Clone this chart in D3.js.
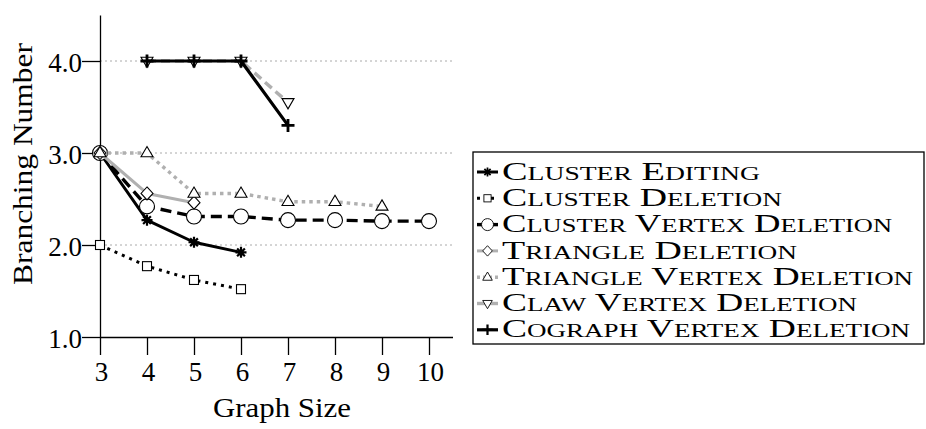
<!DOCTYPE html>
<html><head><meta charset="utf-8">
<script src="https://cdn.jsdelivr.net/npm/d3@7"></script>
<style>
html,body{margin:0;padding:0;background:#fff;}
</style></head>
<body><svg id="c" width="926" height="429" font-family="Liberation Serif"></svg>
<script>
const xTicks = [3,4,5,6,7,8,9,10];
const yTicks = [1,2,3,4];
const gridValues = [2,3,4];
const seriesNames = ["Cluster Editing","Cluster Deletion","Cluster Vertex Deletion","Triangle Deletion","Triangle Vertex Deletion","Claw Vertex Deletion","Cograph Vertex Deletion"];
const clusterEditingX = [3,4,5,6];
const clusterEditingY = [3.0,2.27,2.03,1.92];
const clusterDeletionX = [3,4,5,6];
const clusterDeletionY = [2.0,1.77,1.62,1.52];
const clusterVertexDeletionX = [3,4,5,6,7,8,9,10];
const clusterVertexDeletionY = [3.0,2.42,2.31,2.31,2.27,2.27,2.26,2.26];
const triangleDeletionX = [3,4,5];
const triangleDeletionY = [3.0,2.56,2.46];
const triangleVertexDeletionX = [3,4,5,6,7,8,9];
const triangleVertexDeletionY = [3.0,3.0,2.56,2.56,2.47,2.47,2.42];
const clawVertexDeletionX = [4,5,6,7];
const clawVertexDeletionY = [4.0,4.0,4.0,3.55];
const cographVertexDeletionX = [4,5,6,7];
const cographVertexDeletionY = [4.0,4.0,4.0,3.30];
// measured text widths (layout)
const legendWidths = [258,280,390,295,411,355,408];

const GRAY = "#b0b0b0";
const styles = [
  {color:"#000", width:3, dash:null, marker:"asterisk", ldash:null},
  {color:"#000", width:3, dash:"3,5", marker:"square", ldash:"3,4"},
  {color:"#000", width:3.4, dash:"11,6", marker:"circle", ldash:null},
  {color:GRAY, width:3, dash:null, marker:"diamond", ldash:null},
  {color:GRAY, width:3.4, dash:"3.5,4", marker:"triUp", ldash:"3,3"},
  {color:GRAY, width:3.4, dash:"9,5", marker:"triDown", ldash:null},
  {color:"#000", width:3.2, dash:null, marker:"plus", ldash:null}
];
const xs = [clusterEditingX,clusterDeletionX,clusterVertexDeletionX,triangleDeletionX,triangleVertexDeletionX,clawVertexDeletionX,cographVertexDeletionX];
const ys = [clusterEditingY,clusterDeletionY,clusterVertexDeletionY,triangleDeletionY,triangleVertexDeletionY,clawVertexDeletionY,cographVertexDeletionY];

const FONT = "Liberation Serif";
const svg = d3.select("#c");
const x = d3.scaleLinear().domain([3,10.5]).range([100,452.5]);
const y = d3.scaleLinear().domain([1,4.5]).range([337,15]);

// grid
svg.append("g").selectAll("line").data(gridValues).join("line")
  .attr("x1",x(3)).attr("x2",x(10.5)).attr("y1",d=>y(d)).attr("y2",d=>y(d))
  .attr("stroke","#aaa").attr("stroke-width",1).attr("stroke-dasharray","2,3");

// axes
const xAxis = svg.append("g").attr("transform",`translate(0,${y(1)})`)
  .call(d3.axisBottom(x).tickValues(xTicks).tickSize(18).tickSizeOuter(0).tickPadding(7).tickFormat(d3.format("d")));
const yAxis = svg.append("g").attr("transform",`translate(${x(3)},0)`)
  .call(d3.axisLeft(y).tickValues(yTicks).tickSize(18).tickSizeOuter(0).tickPadding(0).tickFormat(d3.format(".1f")));
[xAxis,yAxis].forEach(g=>{
  g.attr("font-family",FONT).attr("font-size",27);
  g.select(".domain").attr("stroke","#000").attr("stroke-width",1.3);
  g.selectAll(".tick line").attr("stroke","#000").attr("stroke-width",1.3);
  g.selectAll(".tick text").attr("font-family",FONT).attr("font-size",27).attr("fill","#000");
});
yAxis.selectAll(".tick text").attr("dy","0.38em");
xAxis.selectAll(".tick text").attr("dx","1");

svg.append("text").attr("x",282).attr("y",417).attr("text-anchor","middle")
  .attr("font-family",FONT).attr("font-size",27).attr("textLength",138).attr("lengthAdjust","spacingAndGlyphs").text("Graph Size");
svg.append("text").attr("transform",`translate(32,164) rotate(-90)`).attr("text-anchor","middle")
  .attr("font-family",FONT).attr("font-size",27).attr("textLength",242).attr("lengthAdjust","spacingAndGlyphs").text("Branching Number");

function drawMarker(g, type, cx, cy, sc){
  sc = sc || 1;
  const m = g.append("g").attr("transform",`translate(${cx},${cy}) scale(${sc})`);
  if(type==="circle"){
    m.append("circle").attr("r",7.5).attr("fill","#fff").attr("stroke","#000").attr("stroke-width",1.1);
  } else if(type==="square"){
    m.append("rect").attr("x",-4.5).attr("y",-4.5).attr("width",9).attr("height",9).attr("fill","#fff").attr("stroke","#000").attr("stroke-width",1.1);
  } else if(type==="diamond"){
    m.append("path").attr("d","M0,-6.5L6,0L0,6.5L-6,0Z").attr("fill","#fff").attr("stroke","#000").attr("stroke-width",1.1);
  } else if(type==="triUp"){
    m.append("path").attr("d","M0,-6.5L6,3.8L-6,3.8Z").attr("fill","#fff").attr("stroke","#000").attr("stroke-width",1.1);
  } else if(type==="triDown"){
    m.append("path").attr("d","M0,6.5L6,-3.8L-6,-3.8Z").attr("fill","#fff").attr("stroke","#000").attr("stroke-width",1.1);
  } else if(type==="plus"){
    m.append("path").attr("d","M-6.5,0H6.5M0,-6.5V6.5").attr("stroke","#000").attr("stroke-width",2.8);
  } else if(type==="asterisk"){
    let d="";
    for(let k=0;k<4;k++){const a=k*Math.PI/4;d+=`M${-5.5*Math.cos(a)},${-5.5*Math.sin(a)}L${5.5*Math.cos(a)},${5.5*Math.sin(a)}`;}
    m.append("path").attr("d",d).attr("stroke","#000").attr("stroke-width",2.2);
  }
}

const line = d3.line().x(d=>x(d[0])).y(d=>y(d[1]));
const plot = svg.append("g");
seriesNames.forEach((name,i)=>{
  const pts = xs[i].map((v,j)=>[v,ys[i][j]]);
  const s = styles[i];
  plot.append("path").attr("d",line(pts)).attr("fill","none").attr("stroke",s.color)
    .attr("stroke-width",s.width).attr("stroke-dasharray",s.dash).attr("stroke-linejoin","round");
  const mg = plot.append("g");
  pts.forEach(p=>drawMarker(mg,s.marker,x(p[0]),y(p[1])));
});

// legend
const lg = svg.append("g");
lg.append("rect").attr("x",473).attr("y",152).attr("width",451).attr("height",192)
  .attr("fill","#fff").attr("stroke","#000").attr("stroke-width",1.3);
seriesNames.forEach((name,i)=>{
  const cy = 172 + i*26.3;
  const s = styles[i];
  lg.append("line").attr("x1",477).attr("x2",498).attr("y1",cy).attr("y2",cy)
    .attr("stroke",s.color).attr("stroke-width",s.width).attr("stroke-dasharray",s.ldash);
  drawMarker(lg,s.marker,487.5,cy,0.8);
  const t = lg.append("text").attr("x",502).attr("y",cy+7.6)
    .attr("font-family",FONT).attr("font-size",25)
    .attr("textLength",legendWidths[i]).attr("lengthAdjust","spacingAndGlyphs");
  name.split(" ").forEach((w,k)=>{
    t.append("tspan").attr("font-size",25).text((k>0?" ":"")+w[0].toUpperCase());
    t.append("tspan").attr("font-size",18).text(w.slice(1).toUpperCase());
  });
});
</script></body></html>
